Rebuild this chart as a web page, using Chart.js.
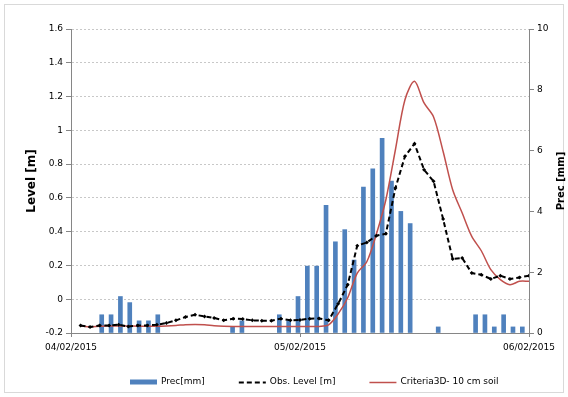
<!DOCTYPE html>
<html>
<head>
<meta charset="utf-8">
<script src="https://cdn.jsdelivr.net/npm/chart.js@4.4.1/dist/chart.umd.min.js"></script>
<style>
    html, body { margin: 0; padding: 0; background: #fff; }
</style>
</head>
<body>
<canvas id="myChart" width="568" height="397"></canvas>
<script>
// x axis labels (one per day boundary)
const dayLabels = ['04/02/2015', '05/02/2015', '06/02/2015'];

// hourly precipitation slots, 04/02 00:00 .. 06/02 00:00
const precHours = Array.from({ length: 49 }, (_, i) => i);
const precMm = [
    0, 0, 0, 0.6, 0.6, 1.2, 1.0, 0.4, 0.4, 0.6,
    0, 0, 0, 0, 0, 0, 0, 0.2, 0.4, 0,
    0, 0, 0.6, 0.4, 1.2, 2.2, 2.2, 4.2, 3.0, 3.4,
    2.4, 4.8, 5.4, 6.4, 5.0, 4.0, 3.6, 0, 0, 0.2,
    0, 0, 0, 0.6, 0.6, 0.2, 0.6, 0.2, 0.2
];

// level series, hours 1..48
const levelHours = Array.from({ length: 48 }, (_, i) => i + 1);
const obsLevel = [
    -0.155, -0.164, -0.155, -0.155, -0.151, -0.162, -0.155, -0.155, -0.151, -0.141,
    -0.125, -0.105, -0.092, -0.102, -0.111, -0.125, -0.115, -0.117, -0.125, -0.127,
    -0.127, -0.115, -0.125, -0.123, -0.115, -0.114, -0.125, -0.027, 0.086, 0.317,
    0.336, 0.376, 0.388, 0.658, 0.846, 0.921, 0.767, 0.698, 0.475, 0.238,
    0.244, 0.155, 0.145, 0.120, 0.139, 0.120, 0.129, 0.139
];
const criteria3D = [
    -0.158, -0.163, -0.160, -0.158, -0.158, -0.158, -0.160, -0.160, -0.160, -0.158,
    -0.155, -0.151, -0.149, -0.151, -0.157, -0.160, -0.161, -0.161, -0.161, -0.161,
    -0.161, -0.161, -0.161, -0.161, -0.161, -0.161, -0.152, -0.087, 0.009, 0.155,
    0.222, 0.385, 0.589, 0.885, 1.181, 1.290, 1.162, 1.079, 0.875, 0.648,
    0.510, 0.372, 0.287, 0.175, 0.116, 0.086, 0.106, 0.106
];

const pts = (xs, ys) => ys.map((v, i) => ({ x: xs[i], y: v }));
const FONT = 'DejaVu Sans';
const AXIS = '#868686';
const BLUE = '#4f81bd';

const frame = {
    id: 'frame',
    beforeDraw(chart) {
        const ctx = chart.ctx;
        ctx.save();
        ctx.fillStyle = '#fff';
        ctx.fillRect(0, 0, chart.width, chart.height);
        ctx.strokeStyle = '#d9d9d9';
        ctx.lineWidth = 1;
        ctx.strokeRect(4.5, 4.5, 559, 388);
        ctx.restore();
    }
};

// right axis title reads bottom-to-top, like the left one
const rightTitle = {
    id: 'rightTitle',
    afterDraw(chart) {
        const ctx = chart.ctx;
        const a = chart.chartArea;
        ctx.save();
        ctx.translate(chart.width - 7, (a.top + a.bottom) / 2);
        ctx.rotate(-Math.PI / 2);
        ctx.font = 'bold 10px "' + FONT + '"';
        ctx.fillStyle = '#000';
        ctx.textAlign = 'center';
        ctx.textBaseline = 'middle';
        ctx.fillText('Prec [mm]', 0, 0);
        ctx.restore();
    }
};

// legend drawn below the axis like the original
const bottomLegend = {
    id: 'bottomLegend',
    afterDraw(chart) {
        const ctx = chart.ctx;
        const y = 382;
        let x = 130;
        ctx.save();
        ctx.font = '9px "' + FONT + '"';
        ctx.textBaseline = 'middle';
        chart.data.datasets.forEach(ds => {
            if (ds.type === 'bar') {
                ctx.fillStyle = BLUE;
                ctx.fillRect(x, y - 2.5, 27, 5);
            } else {
                ctx.strokeStyle = ds.borderColor;
                ctx.lineWidth = ds.borderWidth;
                ctx.setLineDash(ds.borderDash || []);
                ctx.beginPath();
                ctx.moveTo(x, y + 0.5);
                ctx.lineTo(x + 27, y + 0.5);
                ctx.stroke();
                ctx.setLineDash([]);
            }
            ctx.fillStyle = '#000';
            ctx.fillText(ds.label, x + 31, y);
            x += 31 + ctx.measureText(ds.label).width + 34;
        });
        ctx.restore();
    }
};

new Chart(document.getElementById('myChart'), {
    data: {
        labels: precHours,
        datasets: [
            {
                type: 'bar',
                label: 'Prec[mm]',
                data: precMm,
                xAxisID: 'xb',
                yAxisID: 'y1',
                backgroundColor: c => (c.raw ? BLUE : 'rgba(0,0,0,0)'),
                borderWidth: 0,
                barThickness: 4,
                order: 3
            },
            {
                type: 'line',
                label: 'Obs. Level [m]',
                data: pts(levelHours, obsLevel),
                xAxisID: 'x',
                yAxisID: 'y',
                borderColor: '#000',
                backgroundColor: '#000',
                borderWidth: 2,
                borderDash: [5, 3],
                pointStyle: 'rectRot',
                pointRadius: 2,
                pointBorderWidth: 0,
                tension: 0,
                order: 1
            },
            {
                type: 'line',
                label: 'Criteria3D- 10 cm soil',
                data: pts(levelHours, criteria3D),
                xAxisID: 'x',
                yAxisID: 'y',
                borderColor: '#c0504d',
                backgroundColor: '#c0504d',
                borderWidth: 1.5,
                pointRadius: 0,
                tension: 0.3,
                order: 2
            }
        ]
    },
    options: {
        responsive: false,
        animation: false,
        devicePixelRatio: 1,
        layout: { padding: { top: 29, left: 0, right: 0, bottom: 34 } },
        plugins: {
            legend: { display: false },
            tooltip: { enabled: false }
        },
        scales: {
            x: {
                type: 'linear',
                position: 'bottom',
                min: 0,
                max: 48,
                afterBuildTicks: axis => { axis.ticks = [0, 24, 48].map(v => ({ value: v })); },
                afterFit: axis => { axis.height = 30; },
                ticks: {
                    callback: v => dayLabels[v / 24],
                    font: { family: FONT, size: 9 },
                    color: '#000',
                    maxRotation: 0,
                    autoSkip: false,
                    padding: 5
                },
                grid: { drawOnChartArea: false, tickLength: 4, color: AXIS },
                border: { color: AXIS }
            },
            xb: {
                type: 'category',
                display: false,
                offset: true
            },
            y: {
                position: 'left',
                min: -0.2,
                max: 1.6,
                afterFit: axis => { axis.width = 71; },
                ticks: {
                    stepSize: 0.2,
                    callback: v => String(Math.round(v * 10) / 10),
                    font: { family: FONT, size: 9 },
                    color: '#000',
                    padding: 3
                },
                grid: { color: '#c8c8c8', tickColor: AXIS, tickLength: 5, tickBorderDash: [] },
                border: { color: AXIS, dash: [2, 2] },
                title: {
                    display: true,
                    text: 'Level [m]',
                    font: { family: FONT, size: 12, weight: 'bold' },
                    color: '#000',
                    padding: { top: 25, bottom: 0 }
                }
            },
            y1: {
                position: 'right',
                min: 0,
                max: 10,
                afterFit: axis => { axis.width = 39; },
                ticks: {
                    stepSize: 2,
                    font: { family: FONT, size: 9 },
                    color: '#000',
                    padding: 3
                },
                grid: { drawOnChartArea: false, tickColor: AXIS, tickLength: 5 },
                border: { color: AXIS }
            }
        }
    },
    plugins: [frame, rightTitle, bottomLegend]
});
</script>
</body>
</html>
